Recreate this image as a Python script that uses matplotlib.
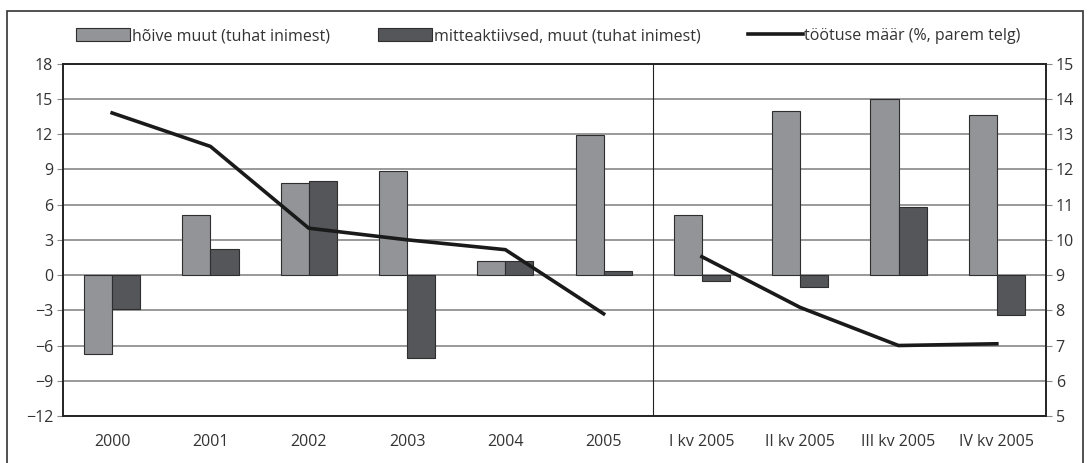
import numpy as np
import matplotlib.pyplot as plt
from matplotlib.patches import Rectangle

plt.rcParams['font.family'] = ['Open Sans', 'DejaVu Sans']

categories = ['2000', '2001', '2002', '2003', '2004', '2005',
              'I kv 2005', 'II kv 2005', 'III kv 2005', 'IV kv 2005']
employment = [-6.7, 5.1, 7.85, 8.85, 1.2, 11.9, 5.1, 13.95, 15.0, 13.65]
inactive = [-2.85, 2.25, 8.0, -7.1, 1.2, 0.35, -0.5, -1.0, 5.8, -3.4]
unemp_rate = [13.6, 12.65, 10.33, 10.0, 9.72, 7.9, 9.52, 8.08, 7.0, 7.05]

light = '#939498'
dark = '#55565a'
edge = '#2e2e2e'
txt = '#333333'

fig = plt.figure(figsize=(10.9, 4.63), dpi=100)
ax = fig.add_axes([0.0578, 0.1015, 0.9018, 0.7611])
ax2 = ax.twinx()

x = np.arange(len(categories))
w = 0.286
ax.bar(x - w / 2, employment, w, color=light, edgecolor=edge, linewidth=0.8,
       label='hõive muut (tuhat inimest)', zorder=3)
ax.bar(x + w / 2, inactive, w, color=dark, edgecolor=edge, linewidth=0.8,
       label='mitteaktiivsed, muut (tuhat inimest)', zorder=3)

# yearly and quarterly parts of the rate are drawn apart
ax2.plot(x[:6], unemp_rate[:6], color='#1a1a1a', lw=2.6, zorder=4,
         label='töötuse määr (%, parem telg)')
ax2.plot(x[6:], unemp_rate[6:], color='#1a1a1a', lw=2.6, zorder=4)

ax.set_xlim(-0.5, len(categories) - 0.5)
ax.set_ylim(-12, 18)
ax.set_yticks(np.arange(-12, 19, 3))
ax2.set_ylim(5, 15)
ax2.set_yticks(np.arange(5, 16, 1))

fs = 11.5
ax.set_xticks(x)
ax.set_xticklabels(categories)
ax.tick_params(axis='x', length=0, pad=13, labelsize=fs, colors=txt)
ax.tick_params(axis='y', length=4, width=0.8, color='#888888', labelsize=fs,
               labelcolor=txt, pad=3)
ax2.tick_params(axis='y', length=4, width=0.8, color='#888888', labelsize=fs,
                labelcolor=txt, pad=3)

ax.yaxis.grid(True, color='#888888', lw=1.2, zorder=0)
ax.set_axisbelow(True)
ax.axvline(5.5, color='#222222', lw=0.8, zorder=2)

for a in (ax, ax2):
    for s in a.spines.values():
        s.set_color('#222222')
        s.set_linewidth(1.2)

h1, l1 = ax.get_legend_handles_labels()
h2, l2 = ax2.get_legend_handles_labels()
fig.legend(h1 + h2, l1 + l2, loc='center', bbox_to_anchor=(0.503, 0.922),
           ncol=3, frameon=False, fontsize=fs, handlelength=3.4,
           handleheight=0.85, handletextpad=0.1, columnspacing=3.0,
           labelcolor=txt)

fig.patches.append(Rectangle((7 / 1090, -0.02), 1076 / 1090, 1.02 - 11 / 463,
                             transform=fig.transFigure, fill=False,
                             edgecolor='#333333', lw=1.2))

fig.savefig('out.png', dpi=100)
